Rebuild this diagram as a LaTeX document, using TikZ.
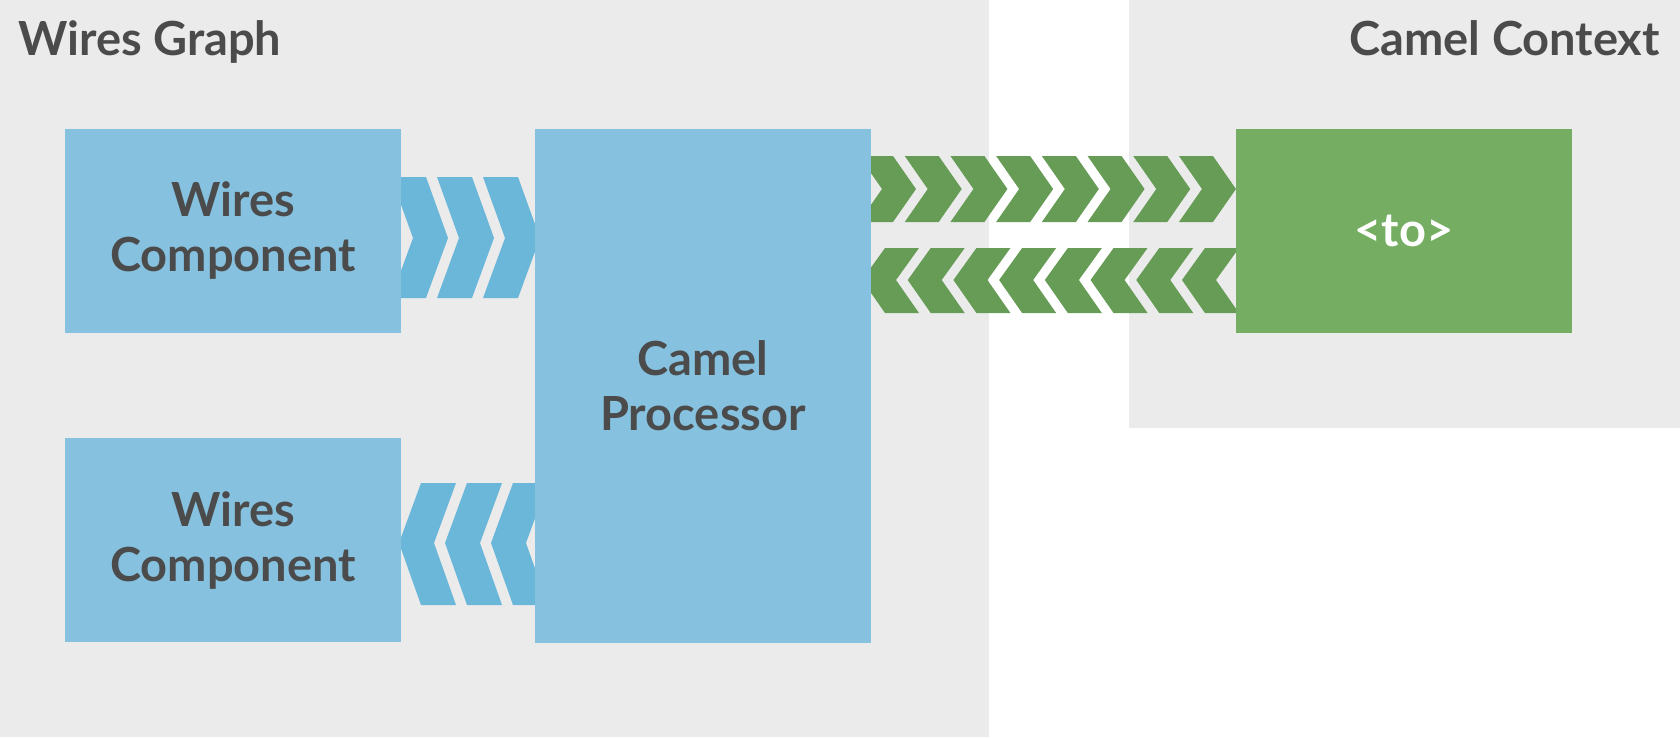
\documentclass[tikz,border=0pt]{standalone}
\usepackage{fontspec}
\setmainfont{Lato}
\usetikzlibrary{positioning,calc}
\definecolor{panelgray}{HTML}{EBEBEB}
\definecolor{inkgray}{HTML}{4B4B4B}
\definecolor{boxblue}{HTML}{86C2DF}
\definecolor{chevblue}{HTML}{6BB7DA}
\definecolor{boxgreen}{HTML}{75AE62}
\definecolor{chevgreen}{HTML}{669C55}
\pgfdeclarelayer{back}
\pgfdeclarelayer{chev}
\pgfsetlayers{back,chev,main}
\tikzset{
  blk/.style={inner sep=0pt, minimum width=336pt, align=center, text=inkgray,
    font=\fontsize{47}{55}\selectfont\bfseries},
  wirebox/.style={blk, fill=boxblue, minimum height=204pt},
  tobox/.style={blk, fill=boxgreen, minimum height=204pt, text=white},
  paneltitle/.style={inner sep=0pt, text=inkgray, font=\fontsize{47}{55}\selectfont\bfseries},
  bluechev/.style={fill=chevblue},
  greenchev/.style={fill=chevgreen}
}
\begin{document}
\begin{tikzpicture}[x=1pt,y=-1pt]
\useasboundingbox (0,0) rectangle (1680,737);
\begin{pgfonlayer}{back}
\fill[panelgray] (0,0) rectangle (989,737);
\fill[panelgray] (1129,0) rectangle (1680,428);
\end{pgfonlayer}
\node[paneltitle, anchor=base west] (wgtitle) at (18,55) {Wires Graph};
\node[paneltitle, anchor=base east] (cctitle) at (1660,55) {Camel Context};
\node[wirebox] (wc1) at (233,231) {Wires\\Component};
\node[wirebox] (wc2) at (233,540) {Wires\\Component};
\node[wirebox, minimum height=514pt] (proc) at (703,386) {Camel\\Processor};
\node[tobox] (to) at (1404,231) {<to>};
\begin{pgfonlayer}{chev}
% wires -> processor
\begin{scope}
\clip (wc1.north east) rectangle (proc.west |- wc1.south);
\foreach \t in {448,494,540}
  \fill[bluechev] (\t-57,177) -- (\t-22,177) -- (\t,238) -- (\t-22,298) -- (\t-57,298) -- (\t-35,238) -- cycle;
\end{scope}
% processor -> wires
\begin{scope}
\clip (wc2.north east) rectangle (proc.west |- wc2.south);
\foreach \t in {399,445,491}
  \fill[bluechev] (\t,543) -- (\t+22,483) -- (\t+57,483) -- (\t+35,543) -- (\t+57,605) -- (\t+22,605) -- cycle;
\end{scope}
% processor <-> to
\begin{scope}
\clip (proc.north east) rectangle (to.south west);
\foreach \k in {0,...,7} {
  \pgfmathsetmacro\t{916+45.71*\k}
  \fill[greenchev] (\t-57,156) -- (\t-23,156) -- (\t,189) -- (\t-23,222) -- (\t-57,222) -- (\t-34,189) -- cycle;
  \pgfmathsetmacro\t{862+45.71*\k}
  \fill[greenchev] (\t,280) -- (\t+23,248) -- (\t+57,248) -- (\t+34,280) -- (\t+57,313) -- (\t+23,313) -- cycle;
}
\end{scope}
\end{pgfonlayer}
\end{tikzpicture}
\end{document}
